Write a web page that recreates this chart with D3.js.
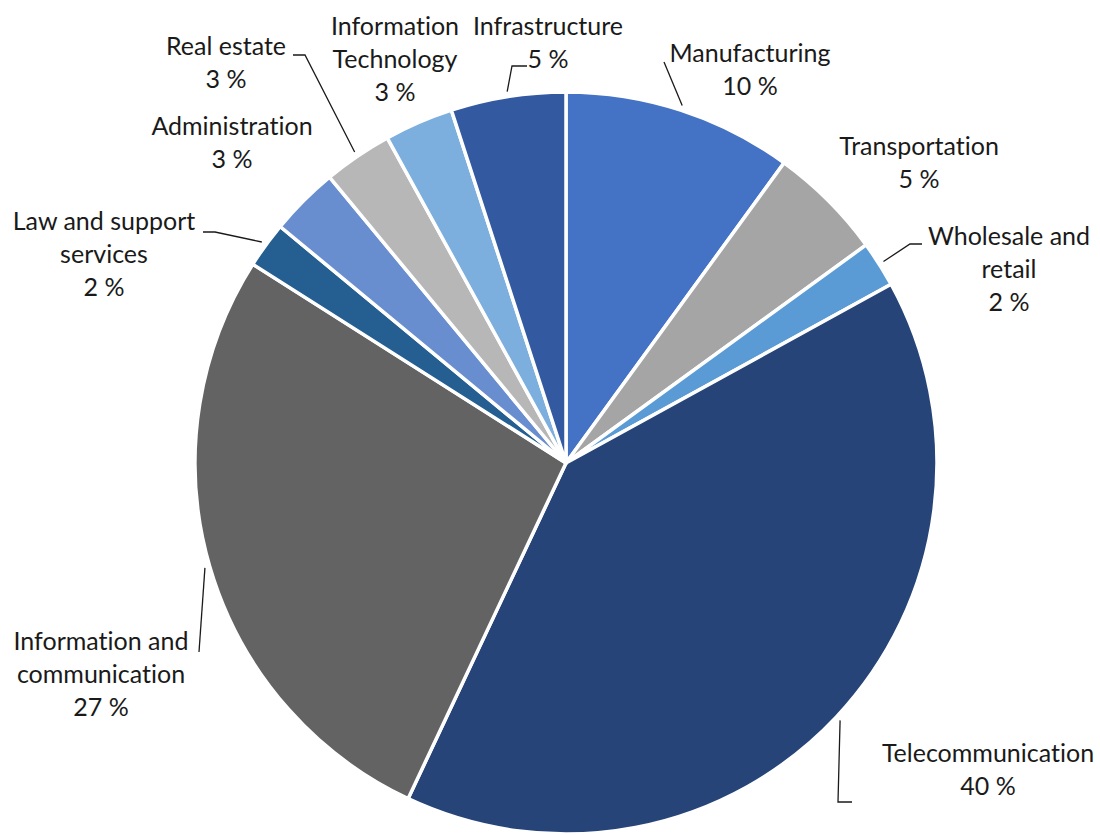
<!DOCTYPE html>
<html>
<head>
<meta charset="utf-8">
<script src="https://cdn.jsdelivr.net/npm/d3@7"></script>
<style>
  html, body { margin: 0; padding: 0; background: #ffffff; }
  svg { display: block; }
  .lbl { font-family: Lato, "Noto Sans", sans-serif; font-size: 25px; fill: #1a1a1a;
         font-variant-ligatures: none; font-feature-settings: "liga" 0; }
</style>
</head>
<body>
<svg id="chart" width="1100" height="835"></svg>
<script>
// Sectors, clockwise from 12 o'clock
const categories = [
  "Manufacturing",
  "Transportation",
  "Wholesale and retail",
  "Telecommunication",
  "Information and communication",
  "Law and support services",
  "Administration",
  "Real estate",
  "Information Technology",
  "Infrastructure"
];
const shares = [10, 5, 2, 40, 27, 2, 3, 3, 3, 5];   // percent
const colors = ["#4472C4", "#A5A5A5", "#5B9BD5", "#264478", "#636363",
                "#255E91", "#698ED0", "#B7B7B7", "#7CAFDD", "#335AA1"];
const labelLines = [
  ["Manufacturing"],
  ["Transportation"],
  ["Wholesale and", "retail"],
  ["Telecommunication"],
  ["Information and", "communication"],
  ["Law and support", "services"],
  ["Administration"],
  ["Real estate"],
  ["Information", "Technology"],
  ["Infrastructure"]
];

// Label placement: centre x, first baseline, and the leader's bend points (label side first)
const labelLayout = [
  { x: 750,  y: 62,  leader: [[664, 62]] },
  { x: 919,  y: 155, leader: null },
  { x: 1009, y: 245, leader: [[922, 244], [910, 244]] },
  { x: 988,  y: 762, leader: [[852, 802], [838, 802]] },
  { x: 101,  y: 650, leader: [[199, 652]] },
  { x: 104,  y: 230, leader: [[203, 232], [215, 232]] },
  { x: 232,  y: 135, leader: null },
  { x: 226,  y: 55,  leader: [[293, 55], [305, 55]] },
  { x: 395,  y: 35,  leader: null },
  { x: 548,  y: 35,  leader: [[527, 66], [512, 66]] }
];

const cx = 566, cy = 463, r = 371, lineH = 33;

const data = categories.map((c, i) => ({ name: c, value: shares[i], i }));

const pie = d3.pie().value(d => d.value).sort(null);
const arcs = pie(data);
const arc = d3.arc().innerRadius(0).outerRadius(r);

const svg = d3.select("#chart");
const g = svg.append("g").attr("transform", `translate(${cx},${cy})`);

g.selectAll("path.slice")
  .data(arcs)
  .join("path")
  .attr("class", "slice")
  .attr("d", arc)
  .attr("fill", d => colors[d.data.i])
  .attr("stroke", "#ffffff")
  .attr("stroke-width", 3.5)
  .attr("stroke-linejoin", "round");

// Leader lines: from the label bend points to just outside the arc's midpoint
const leaderR = r + 5;
const line = d3.line();
arcs.forEach(a => {
  const lay = labelLayout[a.data.i];
  if (!lay.leader) return;
  const mid = (a.startAngle + a.endAngle) / 2;
  const end = [cx + leaderR * Math.sin(mid), cy - leaderR * Math.cos(mid)];
  svg.append("path")
    .attr("d", line(lay.leader.concat([end])))
    .attr("fill", "none")
    .attr("stroke", "#1a1a1a")
    .attr("stroke-width", 1.3);
});

// Labels: category name lines followed by the share
arcs.forEach(a => {
  const lay = labelLayout[a.data.i];
  const lines = labelLines[a.data.i].concat([`${a.data.value} %`]);
  const t = svg.append("text")
    .attr("class", "lbl")
    .attr("text-anchor", "middle")
    .attr("x", lay.x)
    .attr("y", lay.y);
  lines.forEach((s, k) => {
    t.append("tspan").attr("x", lay.x).attr("dy", k === 0 ? 0 : lineH).text(s);
  });
});
</script>
</body>
</html>
